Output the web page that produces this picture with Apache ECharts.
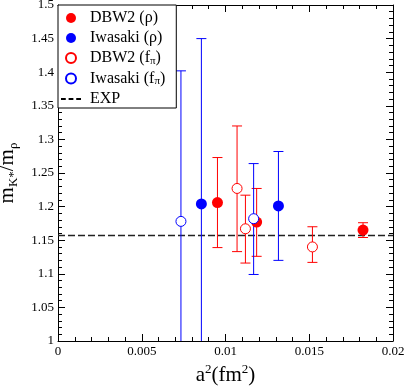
<!DOCTYPE html>
<html><head><meta charset="utf-8">
<script src="https://cdn.jsdelivr.net/npm/echarts@6/dist/echarts.min.js"></script>
<style>html,body{margin:0;padding:0;background:#fff}#c{width:407px;height:387px}</style>
</head><body><div id="c"></div>
<script>
// DBW2 (rho)
const dbw2RhoX = [0.00952, 0.01186, 0.01821];
const dbw2RhoY = [1.206, 1.177, 1.165];
const dbw2RhoLo = [1.139, 1.126, 1.154];
const dbw2RhoHi = [1.273, 1.227, 1.176];
// Iwasaki (rho)
const iwRhoX = [0.00856, 0.01316];
const iwRhoY = [1.204, 1.201];
const iwRhoLo = [0.958, 1.120];
const iwRhoHi = [1.450, 1.282];
// DBW2 (f_pi)
const dbw2FpiX = [0.01069, 0.01119, 0.01519];
const dbw2FpiY = [1.227, 1.167, 1.140];
const dbw2FpiLo = [1.133, 1.116, 1.117];
const dbw2FpiHi = [1.320, 1.217, 1.170];
// Iwasaki (f_pi)
const iwFpiX = [0.00734, 0.01168];
const iwFpiY = [1.178, 1.182];
const iwFpiLo = [0.954, 1.099];
const iwFpiHi = [1.402, 1.264];
// experiment
const expValue = 1.157;
const xRange = [0, 0.02];
const yRange = [1, 1.5];

const seriesNames = ['DBW2 (ρ)', 'Iwasaki (ρ)', 'DBW2 (fπ)', 'Iwasaki (fπ)', 'EXP'];

function pts(xs, ys) { return xs.map((x, i) => [x, ys[i]]); }
function errs(xs, lo, hi) { return xs.map((x, i) => [x, lo[i], hi[i]]); }

const FONT = '"Liberation Serif", "DejaVu Serif", serif';

function errSeries(data, color) {
  return {
    type: 'custom', silent: true, clip: true, z: 2,
    data: data,
    renderItem: function (params, api) {
      const x = api.value(0), lo = api.value(1), hi = api.value(2);
      const pLo = api.coord([x, lo]), pHi = api.coord([x, hi]);
      const w = 5;
      const st = { stroke: color, lineWidth: 1 };
      return {
        type: 'group',
        children: [
          { type: 'line', shape: { x1: pLo[0], y1: pLo[1], x2: pHi[0], y2: pHi[1] }, style: st },
          { type: 'line', shape: { x1: pLo[0] - w, y1: pLo[1], x2: pLo[0] + w, y2: pLo[1] }, style: st },
          { type: 'line', shape: { x1: pHi[0] - w, y1: pHi[1], x2: pHi[0] + w, y2: pHi[1] }, style: st }
        ]
      };
    }
  };
}

const chart = echarts.init(document.getElementById('c'), null, { renderer: 'canvas' });

const axisCommon = {
  axisLine: { show: true, onZero: false, lineStyle: { color: '#000', width: 1 } },
  axisTick: { show: true, inside: true, length: 7, lineStyle: { color: '#000' } },
  minorTick: { show: true, splitNumber: 5, length: 4, lineStyle: { color: '#000' } },
  splitLine: { show: false },
  minorSplitLine: { show: false }
};

const dashIcon = 'path://M0,0H5V2H0Z M8,0H13V2H8Z M16,0H21V2H16Z';

const option = {
  animation: false,
  backgroundColor: '#fff',
  grid: { left: 58, right: 14, top: 5, bottom: 46, containLabel: false, outerBoundsMode: 'none' },
  xAxis: [
    Object.assign({}, axisCommon, {
      type: 'value', min: xRange[0], max: xRange[1], interval: 0.005, position: 'bottom',
      axisLabel: { color: '#000', fontFamily: FONT, fontSize: 13, margin: 4 },
      name: '{m|a}{s|2}{m|(fm}{s|2}{m|)}', nameLocation: 'middle', nameGap: 21,
      nameTextStyle: {
        rich: {
          m: { fontFamily: FONT, fontSize: 21, color: '#000', lineHeight: 26, verticalAlign: 'middle' },
          s: { fontFamily: FONT, fontSize: 13, color: '#000', lineHeight: 13, verticalAlign: 'top' }
        }
      }
    }),
    Object.assign({}, axisCommon, {
      type: 'value', min: xRange[0], max: xRange[1], interval: 0.005, position: 'top',
      axisLabel: { show: false }
    })
  ],
  yAxis: [
    Object.assign({}, axisCommon, {
      type: 'value', min: yRange[0], max: yRange[1], interval: 0.05, position: 'left',
      axisLabel: { color: '#000', fontFamily: FONT, fontSize: 13, margin: 4 },
      name: '{m|m}{s|K*}{m|/m}{s|ρ}', nameLocation: 'middle', nameGap: 33, nameRotate: 90,
      nameTextStyle: {
        rich: {
          m: { fontFamily: FONT, fontSize: 21, color: '#000', lineHeight: 26, verticalAlign: 'middle' },
          s: { fontFamily: FONT, fontSize: 13, color: '#000', lineHeight: 13, verticalAlign: 'bottom' }
        }
      }
    }),
    Object.assign({}, axisCommon, {
      type: 'value', min: yRange[0], max: yRange[1], interval: 0.05, position: 'right',
      axisLabel: { show: false }
    })
  ],
  legend: {
    orient: 'vertical', left: 58, top: 5,
    data: [seriesNames[0], seriesNames[1], seriesNames[2], seriesNames[3], { name: seriesNames[4], icon: dashIcon, itemStyle: { color: '#000' } }],
    backgroundColor: '#fff', borderColor: '#000', borderWidth: 1,
    padding: [5, 11, 1, 3], itemGap: 4, itemWidth: 20, itemHeight: 10,
    selectedMode: false,
    formatter: function (name) {
      if (name === 'DBW2 (fπ)') return '{f|DBW2 (f}{s|π}{t|)}';
      if (name === 'Iwasaki (fπ)') return '{f|Iwasaki (f}{s|π}{t|)}';
      return '{f|' + name + '}';
    },
    textStyle: {
      rich: {
        f: { fontFamily: FONT, fontSize: 16, color: '#000', lineHeight: 17, padding: [0, 0, 0, 4], verticalAlign: 'middle' },
        t: { fontFamily: FONT, fontSize: 16, color: '#000', lineHeight: 17, verticalAlign: 'middle' },
        s: { fontFamily: FONT, fontSize: 11, color: '#000', lineHeight: 10, verticalAlign: 'bottom' }
      }
    }
  },
  series: [
    errSeries(errs(dbw2RhoX, dbw2RhoLo, dbw2RhoHi), '#ff0000'),
    errSeries(errs(iwRhoX, iwRhoLo, iwRhoHi), '#0000ff'),
    errSeries(errs(dbw2FpiX, dbw2FpiLo, dbw2FpiHi), '#ff0000'),
    errSeries(errs(iwFpiX, iwFpiLo, iwFpiHi), '#0000ff'),
    {
      name: 'EXP', type: 'line', symbol: 'none', z: 1,
      data: [[xRange[0], expValue], [xRange[1], expValue]],
      lineStyle: { color: '#222', width: 1.5, type: [7, 3] },
      itemStyle: { color: '#222' }
    },
    {
      name: 'DBW2 (ρ)', type: 'scatter', z: 5, symbol: 'circle', symbolSize: 11,
      data: pts(dbw2RhoX, dbw2RhoY), itemStyle: { color: '#ff0000', opacity: 1 }
    },
    {
      name: 'Iwasaki (ρ)', type: 'scatter', z: 5, symbol: 'circle', symbolSize: 11,
      data: pts(iwRhoX, iwRhoY), itemStyle: { color: '#0000ff', opacity: 1 }
    },
    {
      name: 'DBW2 (fπ)', type: 'scatter', z: 5, symbol: 'circle', symbolSize: 10,
      data: pts(dbw2FpiX, dbw2FpiY), itemStyle: { color: '#ffffff', borderColor: '#ff0000', borderWidth: 1, opacity: 1 }
    },
    {
      name: 'Iwasaki (fπ)', type: 'scatter', z: 5, symbol: 'circle', symbolSize: 10,
      data: pts(iwFpiX, iwFpiY), itemStyle: { color: '#ffffff', borderColor: '#0000ff', borderWidth: 1, opacity: 1 }
    }
  ]
};
chart.setOption(option);
</script>
</body></html>
